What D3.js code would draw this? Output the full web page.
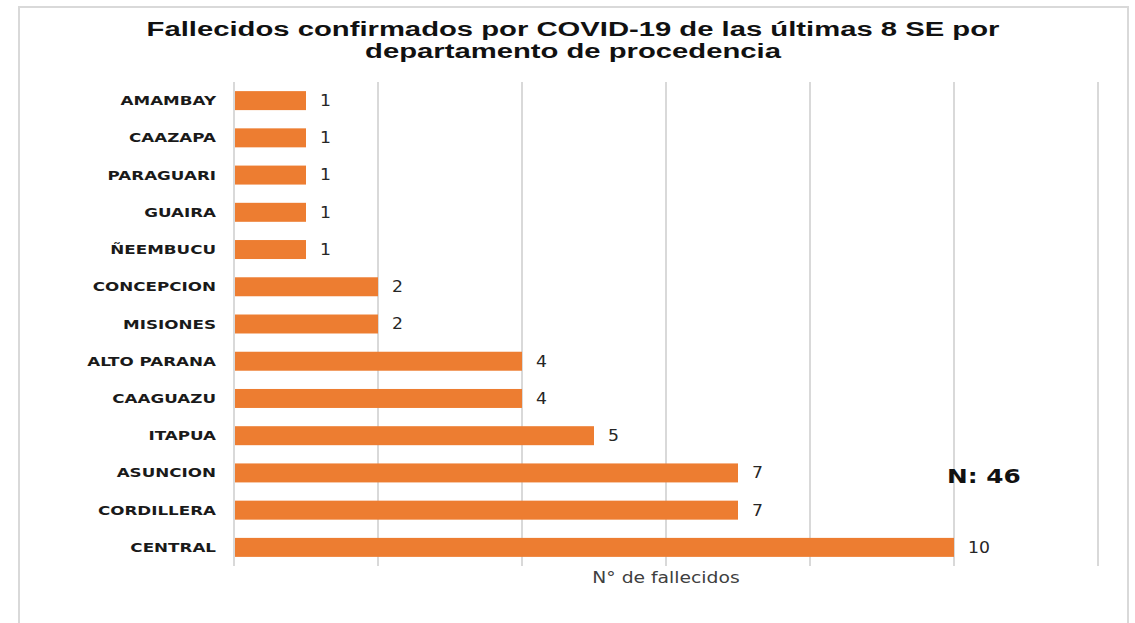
<!DOCTYPE html>
<html>
<head>
<meta charset="utf-8">
<script src="https://cdn.jsdelivr.net/npm/d3@7"></script>
<style>
  body { margin: 0; background: #fff; }
</style>
</head>
<body>
<div id="chart"></div>
<script>
const departamentos = ["AMAMBAY", "CAAZAPA", "PARAGUARI", "GUAIRA", "ÑEEMBUCU", "CONCEPCION",
  "MISIONES", "ALTO PARANA", "CAAGUAZU", "ITAPUA", "ASUNCION", "CORDILLERA", "CENTRAL"];
const fallecidos = [1, 1, 1, 1, 1, 2, 2, 4, 4, 5, 7, 7, 10];
const xTicks = [0, 2, 4, 6, 8, 10, 12];
const titleLines = ["Fallecidos confirmados por COVID-19 de las últimas 8 SE por", "departamento de procedencia"];
const totalLabel = "N: 46";
const xAxisTitle = "N° de fallecidos";

const W = 1135, H = 623;
const margin = {top: 82, left: 234, right: 37, bottom: 57};
const barColour = "#ED7D31";
// the original picture is stretched sideways, so text is widened a bit
const stretch = 1.34;
const titleWidth = 853;

const data = departamentos.map((d, i) => ({name: d, value: fallecidos[i]}));

const svg = d3.select("#chart").append("svg")
  .attr("width", W)
  .attr("height", H);

// frame
svg.append("path")
  .attr("d", "M19,630 L19,7 L1128,7 L1128,630")
  .attr("fill", "none")
  .attr("stroke", "#d9d9d9")
  .attr("stroke-width", 2);

let x = d3.scaleLinear().domain([0, 12]).range([margin.left, 1098]);
let y = d3.scaleBand().domain(departamentos)
  .range([margin.top, H - margin.bottom])
  .paddingInner(0.49).paddingOuter(0.245);

// gridlines
svg.append("g").attr("class", "grid")
  .selectAll("line").data(xTicks).enter()
  .append("line")
  .attr("x1", d => x(d)).attr("x2", d => x(d))
  .attr("y1", margin.top).attr("y2", H - margin.bottom)
  .attr("stroke", "#d9d9d9")
  .attr("stroke-width", 2);

// bars
svg.append("g").attr("class", "bars")
  .selectAll("rect").data(data).enter()
  .append("rect")
  .attr("x", x(0) + 1)
  .attr("y", d => y(d.name))
  .attr("width", d => x(d.value) - x(0) - 1)
  .attr("height", y.bandwidth())
  .attr("fill", barColour);

// category labels
svg.append("g").attr("class", "cats")
  .selectAll("text").data(data).enter()
  .append("text")
  .attr("transform", d => `translate(216,${y(d.name) + y.bandwidth() / 2}) scale(${stretch},1)`)
  .attr("dy", "0.36em")
  .attr("text-anchor", "end")
  .attr("font-family", "'DejaVu Sans', sans-serif")
  .attr("font-weight", "bold")
  .attr("font-size", "12.5px")
  .attr("fill", "#1a1a1a")
  .text(d => d.name);

// value labels
svg.append("g").attr("class", "vals")
  .selectAll("text").data(data).enter()
  .append("text")
  .attr("transform", d => `translate(${x(d.value) + 14},${y(d.name) + y.bandwidth() / 2}) scale(1.15,1)`)
  .attr("dy", "0.36em")
  .attr("font-family", "'DejaVu Sans', sans-serif")
  .attr("font-size", "15px")
  .attr("fill", "#262626")
  .text(d => d.value);

// title: two lines, widened to fit the original width
let title = svg.append("g").attr("class", "title");
let titleText = title.selectAll("text").data(titleLines).enter()
  .append("text")
  .attr("x", 0)
  .attr("y", (d, i) => 36.5 + i * 22)
  .attr("text-anchor", "middle")
  .attr("font-family", "'Liberation Sans', Arial, sans-serif")
  .attr("font-weight", "bold")
  .attr("font-size", "19.5px")
  .attr("fill", "#111")
  .text(d => d);
let titleScale = titleWidth / titleText.node().getComputedTextLength();
title.attr("transform", `translate(573,0) scale(${titleScale},1)`);

// axis title
svg.append("text")
  .attr("transform", `translate(${x(6)},583) scale(1.25,1)`)
  .attr("text-anchor", "middle")
  .attr("font-family", "'DejaVu Sans', sans-serif")
  .attr("font-size", "15px")
  .attr("fill", "#404040")
  .text(xAxisTitle);

// total
svg.append("text")
  .attr("transform", "translate(947,483) scale(1.24,1)")
  .attr("font-family", "'DejaVu Sans', sans-serif")
  .attr("font-weight", "bold")
  .attr("font-size", "20px")
  .attr("fill", "#111")
  .text(totalLabel);
</script>
</body>
</html>
